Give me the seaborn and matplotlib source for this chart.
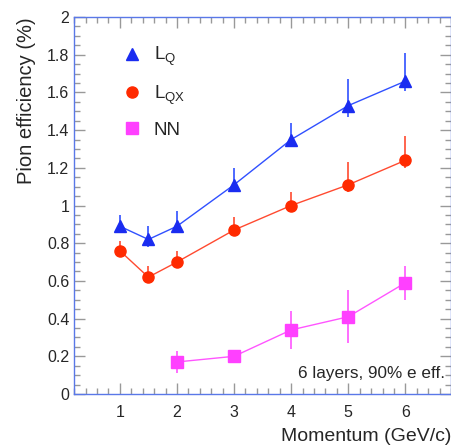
import numpy as np
import pandas as pd
import seaborn as sns
import matplotlib.pyplot as plt
from matplotlib.lines import Line2D
from matplotlib.ticker import MultipleLocator

# momentum points and pion efficiencies (%)
mom_lq = [1, 1.5, 2, 3, 4, 5, 6]
eff_lq = [0.89, 0.82, 0.89, 1.11, 1.35, 1.53, 1.66]
lo_lq = [0.02, 0.04, 0.02, 0.03, 0.04, 0.06, 0.05]
hi_lq = [0.06, 0.07, 0.08, 0.09, 0.09, 0.14, 0.15]

mom_lqx = [1, 1.5, 2, 3, 4, 5, 6]
eff_lqx = [0.76, 0.62, 0.70, 0.87, 1.00, 1.11, 1.24]
lo_lqx = [0.02, 0.02, 0.02, 0.02, 0.02, 0.04, 0.04]
hi_lqx = [0.05, 0.06, 0.06, 0.07, 0.07, 0.12, 0.13]

mom_nn = [2, 3, 4, 5, 6]
eff_nn = [0.17, 0.20, 0.34, 0.41, 0.59]
lo_nn = [0.06, 0.01, 0.10, 0.14, 0.09]
hi_nn = [0.06, 0.01, 0.10, 0.14, 0.09]

labels = ['$\\mathregular{L_Q}$', '$\\mathregular{L_{QX}}$', 'NN']
colors = ['#1a2cf0', '#ff2a00', '#ff40ff']
markers = ['^', 'o', 's']
sizes = [8.5, 8, 8]

df = pd.concat([
    pd.DataFrame({'p': mom_lq, 'eff': eff_lq, 'lo': lo_lq, 'hi': hi_lq, 'method': 'LQ'}),
    pd.DataFrame({'p': mom_lqx, 'eff': eff_lqx, 'lo': lo_lqx, 'hi': hi_lqx, 'method': 'LQX'}),
    pd.DataFrame({'p': mom_nn, 'eff': eff_nn, 'lo': lo_nn, 'hi': hi_nn, 'method': 'NN'}),
], ignore_index=True)
methods = ['LQ', 'LQX', 'NN']

sns.set_style('ticks')
plt.rcParams['font.family'] = ['Liberation Sans', 'DejaVu Sans']
plt.rcParams['mathtext.fontset'] = 'custom'
plt.rcParams['mathtext.rm'] = 'Liberation Sans'

fig = plt.figure(figsize=(4.52, 4.48), dpi=100)
ax = fig.add_axes([0.164, 0.1205, 0.834, 0.8415])

line_colors = ['#3050ff', '#ff4a30', '#ff55ff']
sns.lineplot(data=df, x='p', y='eff', hue='method', hue_order=methods,
             palette=dict(zip(methods, line_colors)), lw=1, legend=False,
             estimator=None, sort=True, ax=ax, zorder=2)

for m, c, mk, ms in zip(methods, colors, markers, sizes):
    d = df[df['method'] == m]
    ax.errorbar(d['p'], d['eff'], yerr=[d['lo'], d['hi']], fmt=mk, color=c,
                ecolor=line_colors[methods.index(m)], elinewidth=1.2, capsize=0,
                ms=ms, mec=c, zorder=3)

ax.set_xlim(0.2, 6.8)
ax.set_ylim(0, 2)
ax.xaxis.set_minor_locator(MultipleLocator(0.2))
ax.yaxis.set_minor_locator(MultipleLocator(0.05))
ax.set_xticks([1, 2, 3, 4, 5, 6])
ax.set_yticks(np.arange(0, 2.01, 0.2))
ax.set_yticklabels(['0', '0.2', '0.4', '0.6', '0.8', '1', '1.2', '1.4', '1.6', '1.8', '2'])
ax.tick_params(which='both', direction='in', top=True, right=True, color='#999999',
               labelsize=11.5)
ax.tick_params(which='major', length=8, width=1)
ax.tick_params(which='minor', length=4, width=1)
ax.tick_params(axis='x', pad=8)
for s in ax.spines.values():
    s.set_color('#5a78e8')
    s.set_linewidth(1)

ax.set_xlabel('Momentum (GeV/c)', fontsize=14, loc='right', labelpad=6)
ax.set_ylabel('Pion efficiency (%)', fontsize=14.5, loc='top', labelpad=8)

ax.text(6.7, 0.07, '6 layers, 90% e eff.', ha='right', va='bottom', fontsize=12.3)

handles = [Line2D([], [], ls='none', marker=mk, color=c, ms=ms)
           for c, mk, ms in zip(colors, markers, sizes)]
ax.legend(handles, labels, loc='upper left', bbox_to_anchor=(0.08, 0.97),
          frameon=False, fontsize=13.5, handletextpad=0.55, labelspacing=0.8,
          handlelength=1.2)

fig.savefig('out.png', dpi=100)
